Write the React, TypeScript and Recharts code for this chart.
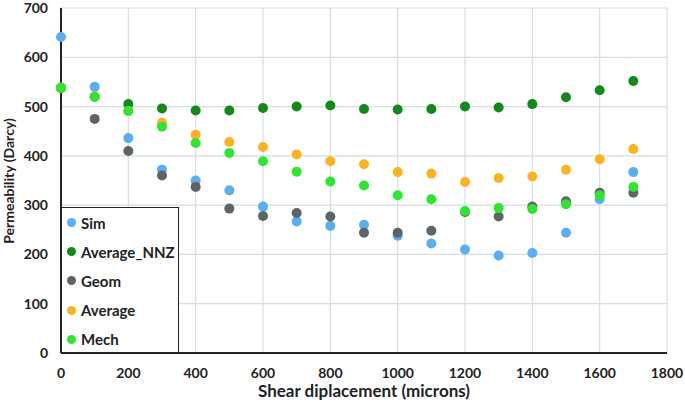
import React from "react";
import { CartesianGrid, Label, Scatter, ScatterChart, XAxis, YAxis } from "recharts";

const displacement = [0, 100, 200, 300, 400, 500, 600, 700, 800, 900, 1000, 1100, 1200, 1300, 1400, 1500, 1600, 1700];

const sim = [641, 540, 436, 372, 350, 330, 297, 267, 258, 260, 238, 222, 210, 198, 203, 244, 312, 367];
const averageNnz = [538, 520, 505, 496, 492, 492, 497, 500, 502, 495, 494, 495, 500, 498, 505, 519, 533, 552];
const geom = [538, 475, 410, 360, 337, 293, 278, 284, 277, 244, 244, 248, 286, 277, 297, 308, 325, 325];
const average = [538, 520, 491, 467, 443, 428, 418, 403, 389, 383, 367, 364, 347, 355, 358, 372, 393, 414];
const mech = [538, 520, 491, 459, 426, 406, 389, 368, 348, 340, 320, 312, 288, 294, 292, 302, 320, 337];

const xTicks = [0, 200, 400, 600, 800, 1000, 1200, 1400, 1600, 1800];
const yTicks = [0, 100, 200, 300, 400, 500, 600, 700];

const SERIES = [
  { name: "Sim", values: sim, color: "#5aaef2" },
  { name: "Average_NNZ", values: averageNnz, color: "#12891a" },
  { name: "Geom", values: geom, color: "#5e6567" },
  { name: "Average", values: average, color: "#fdb222" },
  { name: "Mech", values: mech, color: "#2fe52f" },
];

const FONT = "Lato, 'Open Sans', sans-serif";

const toPoints = (values: number[]) => displacement.map((x, i) => ({ x, y: values[i] }));

const Dot = (props: any) => {
  const { cx, cy, fill } = props;
  if (cx == null || cy == null) return null;
  return <circle cx={cx} cy={cy} r={5} fill={fill} />;
};

// legend sits inside the plot, bottom-left, as in the original
const LegendBox = () => (
  <div
    style={{
      position: "absolute",
      left: 61,
      top: 207,
      width: 118,
      height: 146,
      border: "1.5px solid #222",
      background: "#fff",
      fontFamily: FONT,
      fontWeight: 700,
      fontSize: 15,
      color: "#222",
      boxSizing: "border-box",
    }}
  >
    {SERIES.map((s) => (
      <div key={s.name} style={{ display: "flex", alignItems: "center", height: 29.2, paddingLeft: 5 }}>
        <span
          style={{
            width: 9,
            height: 9,
            borderRadius: "50%",
            background: s.color,
            marginRight: 5,
            display: "inline-block",
          }}
        />
        {s.name}
      </div>
    ))}
  </div>
);

const YLabel = () => {
  const cx = 8;
  const cy = 181;
  return (
    <text
      x={cx}
      y={cy}
      transform={`rotate(-90, ${cx}, ${cy})`}
      textAnchor="middle"
      dominantBaseline="central"
      style={{ fontSize: 14, fontWeight: 700, fill: "#222", fontFamily: FONT }}
    >
      Permeability (Darcy)
    </text>
  );
};

export default function App() {
  const tick = { fontSize: 14, fontWeight: 700, fill: "#222", fontFamily: FONT };
  return (
    <div style={{ position: "absolute", left: 0, top: 0, width: 685, height: 409, background: "#fff" }}>
      <ScatterChart width={685} height={409} margin={{ top: 8, right: 18, bottom: 0, left: 0 }}>
        <CartesianGrid stroke="#d6dede" strokeWidth={1.2} />
        <XAxis
          type="number"
          dataKey="x"
          domain={[0, 1800]}
          ticks={xTicks}
          interval={0}
          height={56}
          tick={tick}
          tickLine={false}
          tickSize={0}
          tickMargin={15}
          axisLine={{ stroke: "#222", strokeWidth: 2 }}
        >
          <Label
            value="Shear diplacement (microns)"
            position="insideBottom"
            offset={12}
            style={{ fontSize: 17, fontWeight: 700, fill: "#222", fontFamily: FONT }}
          />
        </XAxis>
        <YAxis
          type="number"
          dataKey="y"
          domain={[0, 700]}
          ticks={yTicks}
          interval={0}
          width={61}
          tick={tick}
          tickLine={false}
          tickSize={0}
          tickMargin={13}
          axisLine={{ stroke: "#222", strokeWidth: 2 }}
        >
          <Label content={<YLabel />} />
        </YAxis>
        {SERIES.map((s) => (
          <Scatter
            key={s.name}
            name={s.name}
            data={toPoints(s.values)}
            fill={s.color}
            shape={<Dot />}
            isAnimationActive={false}
          />
        ))}
      </ScatterChart>
      <LegendBox />
    </div>
  );
}
